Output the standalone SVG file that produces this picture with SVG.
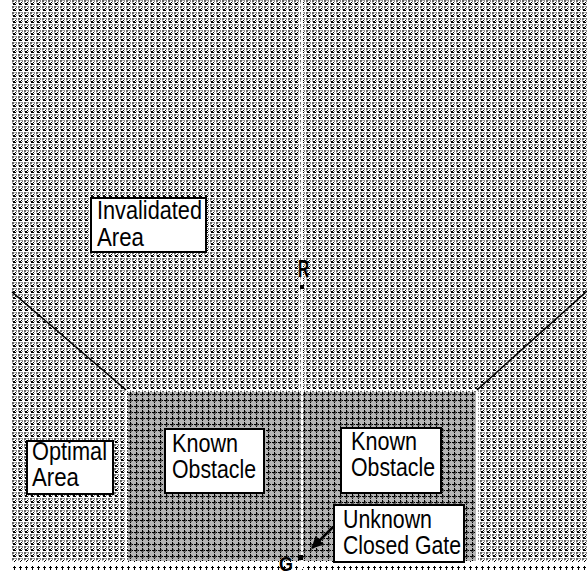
<svg xmlns="http://www.w3.org/2000/svg" width="587" height="574" viewBox="0 0 587 574">
<style>
.box{fill:#fff;stroke:#000;stroke-width:2}
.lbl{font-family:"Liberation Sans",Arial,sans-serif;font-size:26px;fill:#000}
.pt{font-family:"Liberation Sans",Arial,sans-serif;font-weight:bold;fill:#000}
.wl{stroke:#fff;stroke-width:2;fill:none;stroke-dasharray:5 1}
.dg{stroke:#000;stroke-width:1.5;fill:none}
</style>
<defs>
<pattern id="free" x="12" y="0" width="6" height="6" patternUnits="userSpaceOnUse">
<rect width="6" height="6" fill="#fff"/>
<rect x="0" y="0" width="2" height="2" fill="#666"/>
<rect x="2" y="0" width="2" height="1" fill="#aaa"/>
<rect x="0" y="2" width="1" height="2" fill="#aaa"/>
<rect x="4" y="0" width="1" height="2" fill="#888"/>
<rect x="3" y="2" width="1" height="1" fill="#000"/>
<rect x="2" y="3" width="1" height="1" fill="#000"/>
<rect x="1" y="3" width="1" height="2" fill="#000"/>
<rect x="2" y="4" width="2" height="1" fill="#000"/>
<rect x="4" y="3" width="1" height="1" fill="#999"/>
</pattern>
<pattern id="obst" x="128" y="392" width="6" height="6" patternUnits="userSpaceOnUse">
<rect width="6" height="6" fill="#b4b4b4"/>
<rect x="2" y="0" width="1" height="5" fill="#000"/>
<rect x="0" y="2" width="5" height="1" fill="#000"/>
<rect x="3" y="1" width="1" height="3" fill="#555"/>
<rect x="1" y="3" width="3" height="1" fill="#666"/>
</pattern>
<pattern id="edge" x="12" y="561" width="6" height="8" patternUnits="userSpaceOnUse">
<rect width="6" height="8" fill="#fff"/>
<rect x="2" y="0" width="1" height="3" fill="#000"/>
<rect x="1" y="1" width="3" height="1" fill="#000"/>
<rect x="2" y="5" width="1" height="3" fill="#000"/>
<rect x="1" y="6" width="3" height="1" fill="#000"/>
</pattern>
<marker id="ah" markerWidth="12" markerHeight="12" refX="11" refY="6" orient="auto" markerUnits="userSpaceOnUse">
<path d="M0,0 L12,6 L0,12 z" fill="#000"/>
</marker>
</defs>
<g id="field">
<rect x="12" y="0" width="575" height="561" fill="url(#free)"/>
<rect x="12" y="561" width="575" height="9" fill="url(#edge)"/>
</g>
<g id="obstacles">
<rect x="128" y="392" width="348" height="169" fill="url(#obst)"/>
</g>
<g id="connectors">
<line class="wl" x1="302" y1="0" x2="302" y2="570"/>
<line class="wl" x1="125" y1="390" x2="479" y2="390"/>
<line class="wl" x1="126" y1="390" x2="126" y2="562"/>
<line class="wl" x1="477" y1="390" x2="477" y2="562"/>
<line class="wl" x1="12" y1="563" x2="587" y2="563"/>
<line class="dg" x1="12" y1="292" x2="126" y2="390"/>
<line class="dg" x1="587" y1="291" x2="477" y2="390"/>
<line x1="333" y1="527" x2="312" y2="548" stroke="#000" stroke-width="2.5" marker-end="url(#ah)"/>
</g>
<g id="invalidated">
<rect class="box" x="91" y="198" width="115" height="54"/>
<text class="lbl" x="97" y="219" textLength="105" lengthAdjust="spacingAndGlyphs">Invalidated</text>
<text class="lbl" x="97" y="246" textLength="47" lengthAdjust="spacingAndGlyphs">Area</text>
</g>
<g id="optimal">
<rect class="box" x="27" y="441" width="86" height="53"/>
<text class="lbl" x="32" y="460" textLength="75" lengthAdjust="spacingAndGlyphs">Optimal</text>
<text class="lbl" x="32" y="486" textLength="47" lengthAdjust="spacingAndGlyphs">Area</text>
</g>
<g id="obstacle1">
<rect class="box" x="165" y="429" width="99" height="64"/>
<text class="lbl" x="172" y="452" textLength="66" lengthAdjust="spacingAndGlyphs">Known</text>
<text class="lbl" x="172" y="478" textLength="84" lengthAdjust="spacingAndGlyphs">Obstacle</text>
</g>
<g id="obstacle2">
<rect class="box" x="341" y="428" width="100" height="65"/>
<text class="lbl" x="351" y="450" textLength="66" lengthAdjust="spacingAndGlyphs">Known</text>
<text class="lbl" x="351" y="476" textLength="84" lengthAdjust="spacingAndGlyphs">Obstacle</text>
</g>
<g id="gate">
<rect class="box" x="334" y="505" width="130" height="57"/>
<text class="lbl" x="343" y="528" textLength="89" lengthAdjust="spacingAndGlyphs">Unknown</text>
<text class="lbl" x="343" y="554" textLength="118" lengthAdjust="spacingAndGlyphs">Closed Gate</text>
</g>
<g id="robot">
<text class="pt" x="298" y="277" font-size="23" textLength="11" lengthAdjust="spacingAndGlyphs">R</text>
<rect x="300" y="285" width="4" height="4" fill="#000"/>
</g>
<g id="goal">
<text class="pt" x="279" y="571" font-size="20" textLength="14" lengthAdjust="spacingAndGlyphs">G</text>
<rect x="298" y="555" width="5" height="5" fill="#000"/>
</g>
</svg>
